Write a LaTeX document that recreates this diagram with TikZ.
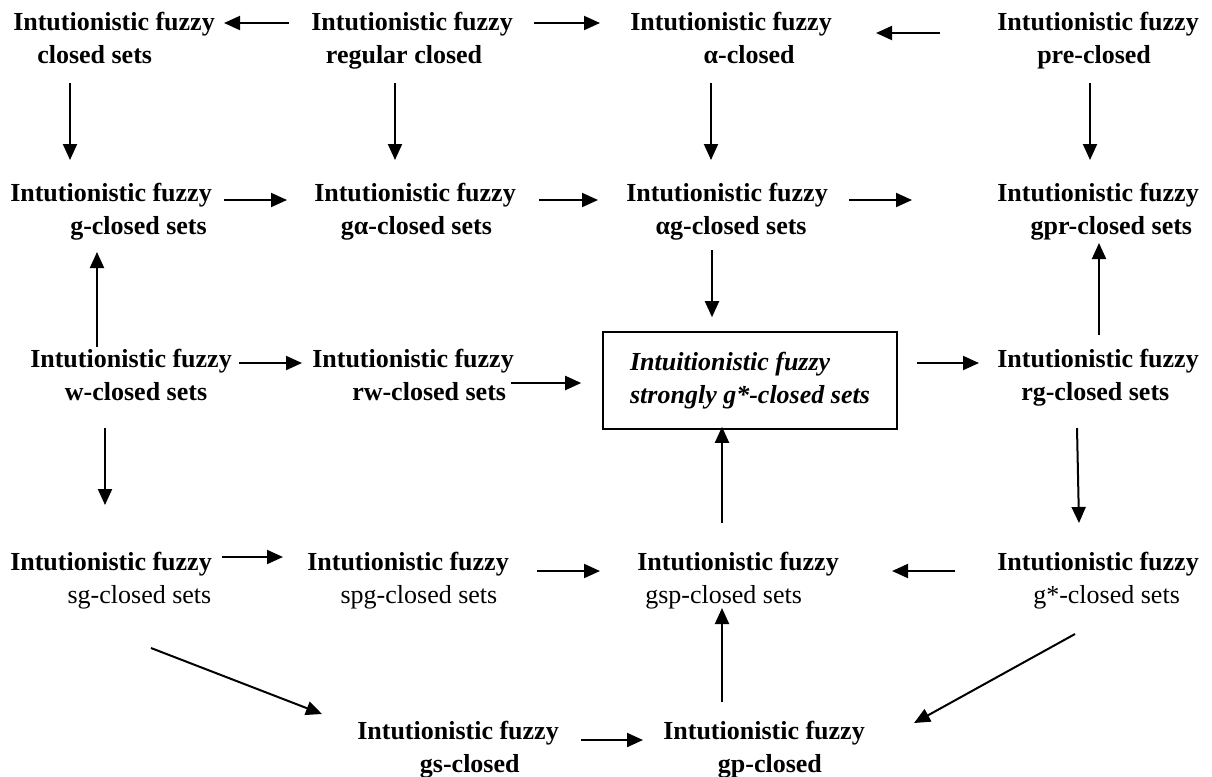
\documentclass[tikz,border=0pt]{standalone}
\usepackage{fontspec}
\setmainfont{Liberation Serif}
\usetikzlibrary{arrows.meta,calc}
\newcommand{\diagfont}{\fontsize{19.5pt}{24.4pt}\selectfont}
\tikzset{
  >={Triangle[length=12pt,width=10.5pt]},
  conn/.style={->, line width=1.5pt},
  setnode/.style={anchor=north west, inner sep=0pt, align=left, font=\diagfont\bfseries},
  mainbox/.style={draw, line width=1.2pt, minimum width=220.5pt, minimum height=72.75pt,
    inner sep=0pt, align=left, font=\diagfont\bfseries\itshape},
}
\begin{document}
\begin{tikzpicture}[x=0.75pt,y=-0.75pt]
  \useasboundingbox (0,0) rectangle (1212,776);

  % row 1
  \node[setnode] (closed) at (13,12) {Intutionistic fuzzy\\\hspace*{18pt}closed sets};
  \node[setnode] (regular) at (311,12) {Intutionistic fuzzy\\\hspace*{11pt}regular closed};
  \node[setnode] (alpha) at (630,12) {Intutionistic fuzzy\\\hspace*{55pt}α-closed};
  \node[setnode] (pre) at (997,12) {Intutionistic fuzzy\\\hspace*{30pt}pre-closed};

  % row 2
  \node[setnode] (gcl) at (10,183) {Intutionistic fuzzy\\\hspace*{45pt}g-closed sets};
  \node[setnode] (galpha) at (314,183) {Intutionistic fuzzy\\\hspace*{20pt}gα-closed sets};
  \node[setnode] (alphag) at (626,183) {Intutionistic fuzzy\\\hspace*{22pt}αg-closed sets};
  \node[setnode] (gpr) at (997,183) {Intutionistic fuzzy\\\hspace*{25pt}gpr-closed sets};

  % row 3
  \node[setnode] (wcl) at (30,349) {Intutionistic fuzzy\\\hspace*{26pt}w-closed sets};
  \node[setnode] (rw) at (312,349) {Intutionistic fuzzy\\\hspace*{30pt}rw-closed sets};
  \node[mainbox] (strong) at (750,380.5) {Intuitionistic fuzzy\\strongly g*-closed sets};
  \node[setnode] (rg) at (997,349) {Intutionistic fuzzy\\\hspace*{18pt}rg-closed sets};

  % row 4
  \node[setnode] (sg) at (10,552) {Intutionistic fuzzy\\\hspace*{43pt}\textmd{sg-closed sets}};
  \node[setnode] (spg) at (307,552) {Intutionistic fuzzy\\\hspace*{25pt}\textmd{spg-closed sets}};
  \node[setnode] (gsp) at (637,552) {Intutionistic fuzzy\\\hspace*{6pt}\textmd{gsp-closed sets}};
  \node[setnode] (gstar) at (997,552) {Intutionistic fuzzy\\\hspace*{27pt}\textmd{g*-closed sets}};

  % row 5
  \node[setnode] (gs) at (357,721) {Intutionistic fuzzy\\\hspace*{47pt}gs-closed};
  \node[setnode] (gp) at (663,721) {Intutionistic fuzzy\\\hspace*{41pt}gp-closed};

  % arrows, row 1
  \draw[conn] ($(regular.north west)+(-22,11)$) -- ($(closed.north east)+(9,11)$);
  \draw[conn] ($(regular.north east)+(21,11)$) -- ($(alpha.north west)+(-30,11)$);
  \draw[conn] ($(pre.north west)+(-57,21)$) -- ($(alpha.north east)+(44,21)$);
  \draw[conn] ($(closed.north west)+(57,71)$) -- ($(gcl.north west)+(60,-23)$);
  \draw[conn] ($(regular.north west)+(84,71)$) -- ($(galpha.north west)+(81,-23)$);
  \draw[conn] ($(alpha.north west)+(81,71)$) -- ($(alphag.north west)+(85,-23)$);
  \draw[conn] ($(pre.north west)+(93,71)$) -- ($(gpr.north west)+(93,-23)$);

  % arrows, row 2
  \draw[conn] ($(gcl.north east)+(12,17)$) -- ($(galpha.north west)+(-27,17)$);
  \draw[conn] ($(galpha.north east)+(23,17)$) -- ($(alphag.north west)+(-28,17)$);
  \draw[conn] ($(alphag.north east)+(21,17)$) -- ($(gpr.north west)+(-85,17)$);
  \draw[conn] ($(alphag.north west)+(86,67)$) -- ($(strong.north)+(-38,-14)$);
  \draw[conn] ($(wcl.north west)+(67,-2)$) -- ($(gcl.north west)+(87,69)$);
  \draw[conn] ($(rg.north west)+(102,-14)$) -- ($(gpr.north west)+(102,60)$);

  % arrows, row 3
  \draw[conn] ($(wcl.north east)+(7,14)$) -- ($(rw.north west)+(-10,14)$);
  \draw[conn] ($(rw.north east)+(-3,34)$) -- ($(strong.west)+(-21,2.5)$);
  \draw[conn] ($(strong.east)+(19,-17.5)$) -- ($(rg.north west)+(-18,14)$);
  \draw[conn] ($(wcl.north west)+(75,79)$) -- ($(sg.north west)+(95,-47)$);
  \draw[conn] ($(rg.north west)+(80,79)$) -- ($(gstar.north west)+(82,-29)$);
  \draw[conn] ($(gsp.north west)+(85,-29)$) -- ($(strong.south)+(-28,-3)$);

  % arrows, row 4
  \draw[conn] ($(sg.north east)+(10,5)$) -- ($(spg.north west)+(-24,5)$);
  \draw[conn] ($(spg.north east)+(28,19)$) -- ($(gsp.north west)+(-37,19)$);
  \draw[conn] ($(gstar.north west)+(-42,19)$) -- ($(gsp.north east)+(53,19)$);
  \draw[conn] ($(sg.north west)+(141,96)$) -- ($(gs.north west)+(-35,-7)$);
  \draw[conn] ($(gp.north west)+(59,-19)$) -- ($(gsp.north west)+(85,56)$);
  \draw[conn] ($(gstar.north west)+(78,82)$) -- ($(gp.north east)+(49,2)$);

  % arrows, row 5
  \draw[conn] ($(gs.north east)+(22,19)$) -- ($(gp.north west)+(-20,19)$);
\end{tikzpicture}
\end{document}
